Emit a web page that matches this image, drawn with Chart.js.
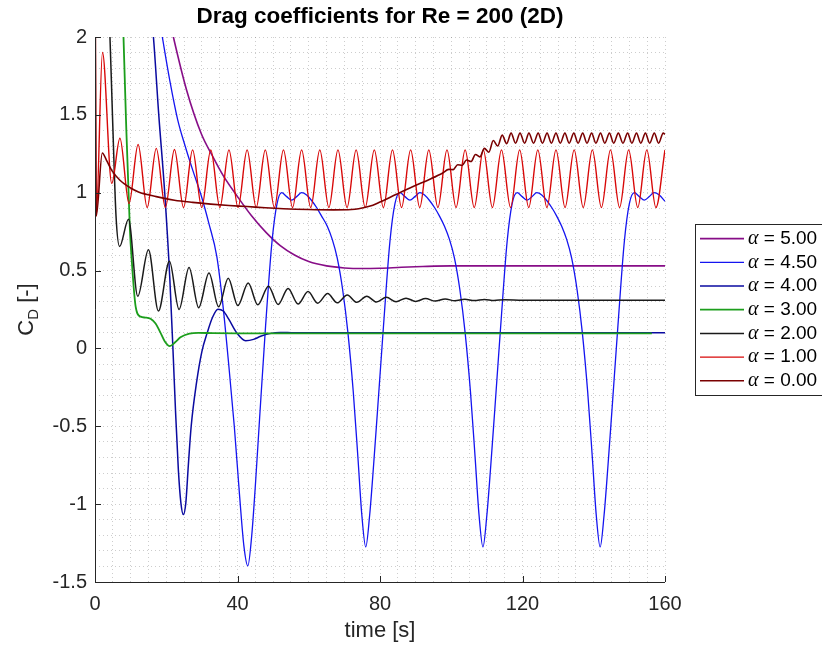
<!DOCTYPE html>
<html lang="en">
<head>
<meta charset="UTF-8">
<title>Drag coefficients for Re = 200 (2D)</title>
<script src="https://cdn.jsdelivr.net/npm/chart.js@4.4.1/dist/chart.umd.min.js"></script>
<style>
    html, body { margin: 0; padding: 0; background: #fff; }
    #dragChart { display: block; }
</style>
</head>
<body>

<canvas id="dragChart" width="822" height="651"></canvas>

<script>
// legend labels, same order as in the figure
const alphaLabels = ['5.00', '4.50', '4.00', '3.00', '2.00', '1.00', '0.00'];

// labelled ticks (minor grid every 5 s / 0.1)
const xTicks = [0, 40, 80, 120, 160];
const yTicks = [-1.5, -1, -0.5, 0, 0.5, 1, 1.5, 2];
const xMinorStep = 5;
const yMinorStep = 0.1;

// alpha = 5.00
const tA500 = [0, 12, 18, 22.0, 25.7, 29.9, 33, 36, 40, 44, 48, 52, 56, 60, 65, 70, 75, 80, 86, 92, 100, 160];
const cdA500 = [8, 3.5, 2.42, 2.0, 1.66, 1.375, 1.235, 1.11, 0.975, 0.85, 0.745, 0.66, 0.6, 0.558, 0.53, 0.517, 0.513, 0.515, 0.521, 0.526, 0.53, 0.53];

// alpha = 4.50
const tA450 = [0, 12, 16, 18.9, 21, 23.2, 25.3, 27.5, 29.7, 32, 34.2, 35.9, 37.4, 39.1, 40.6, 41.8, 42.9, 44.0, 45.1, 46.2, 47.9, 49.7, 51.1, 52.4, 53.8, 55.2, 56.6, 58.0,
    59.4, 60.8, 62.2, 63.6, 65.2, 66.6, 68.0, 69.5, 71.0, 72.5, 73.8, 74.9, 76.0, 77.1, 78.2, 79.3, 81.0, 82.8, 84.2, 85.6, 87.0, 88.4, 89.8, 91.2,
    92.5, 93.9, 95.3, 96.7, 98.1, 99.5, 100.9, 102.4, 103.9, 105.4, 106.7, 107.8, 108.9, 110.0, 111.1, 112.2, 113.9, 115.7, 117.1, 118.5, 119.9, 121.3, 122.7, 124.0,
    125.4, 126.8, 128.2, 129.6, 131.0, 132.4, 133.8, 135.3, 136.8, 138.3, 139.6, 140.7, 141.8, 142.9, 144.0, 145.1, 146.8, 148.6, 150.0, 151.4, 152.8, 154.2, 155.6, 156.9,
    158.4, 160];
const cdA450 = [8, 3.4, 2.4, 2.0, 1.72, 1.47, 1.3, 1.14, 0.99, 0.8, 0.59, 0.28, -0.07, -0.5, -0.95, -1.27, -1.397, -1.2, -0.85, -0.45, 0.15, 0.69, 0.93, 1.0, 0.975, 0.953, 0.975, 1.0,
    0.985, 0.95, 0.905, 0.85, 0.785, 0.70, 0.58, 0.38, 0.1, -0.28, -0.7, -1.07, -1.275, -1.07, -0.75, -0.4, 0.15, 0.69, 0.93, 1.0, 0.975, 0.953, 0.975, 1.0,
    0.985, 0.95, 0.905, 0.85, 0.785, 0.70, 0.58, 0.38, 0.1, -0.28, -0.7, -1.07, -1.275, -1.07, -0.75, -0.4, 0.15, 0.69, 0.93, 1.0, 0.975, 0.953, 0.975, 1.0,
    0.985, 0.95, 0.905, 0.85, 0.785, 0.70, 0.58, 0.38, 0.1, -0.28, -0.7, -1.07, -1.275, -1.07, -0.75, -0.4, 0.15, 0.69, 0.93, 1.0, 0.975, 0.953, 0.975, 1.0,
    0.985, 0.945];

// alpha = 4.00
const tA400 = [0, 10, 14, 16.4, 17.9, 19.6, 21.0, 22.0, 22.6, 23.4, 24.1, 24.8, 25.5, 26.2, 27.0, 28.5, 30.0, 31.5, 33.0, 34.5, 36.0, 37.5, 39.8, 42.3, 44.5, 46.5, 49.0, 52.0, 56.0, 160];
const cdA400 = [8, 3.6, 2.55, 2.0, 1.5, 0.99, 0.45, -0.07, -0.4, -0.78, -0.99, -1.067, -0.99, -0.75, -0.5, -0.22, -0.02, 0.1, 0.2, 0.252, 0.24, 0.19, 0.1, 0.05, 0.058, 0.078, 0.095, 0.103, 0.1, 0.1];

// alpha = 3.00
const tA300 = [0, 6, 8.0, 8.7, 9.8, 10.3, 11.4, 12.8, 14.2, 15.6, 17.0, 18.2, 19.6, 21.0, 22.5, 24.0, 26.5, 29.0, 33.0, 40.0, 156.3];
const cdA300 = [8, 3.3, 2.0, 1.47, 0.76, 0.57, 0.27, 0.204, 0.198, 0.19, 0.16, 0.11, 0.045, 0.015, 0.04, 0.072, 0.095, 0.1, 0.098, 0.097, 0.097];

// alpha = 2.00
const tA200 = [0, 3, 4.2, 4.9, 5.9, 6.9, 9.4, 12.0, 15.0, 17.8, 20.9, 23.6, 26.4, 29.1, 32.0, 34.7, 37.4, 40.1, 43.0, 45.7, 48.7, 51.4,
    54.2, 57.0, 59.8, 62.5, 65.3, 68.0, 70.8, 73.5, 76.3, 79.0, 81.8, 84.5, 87.3, 90.0, 92.8, 95.5, 98.3, 101.0, 103.8, 106.5, 109.3, 112.0, 115.0, 120.0, 160];
const cdA200 = [5, 2.6, 2.0, 1.5, 0.85, 0.655, 0.83, 0.335, 0.633, 0.24, 0.56, 0.25, 0.52, 0.262, 0.485, 0.267, 0.45, 0.275, 0.42, 0.28, 0.40, 0.282,
    0.385, 0.285, 0.365, 0.29, 0.352, 0.293, 0.343, 0.296, 0.335, 0.298, 0.328, 0.3, 0.323, 0.302, 0.32, 0.304, 0.318, 0.306, 0.316, 0.307, 0.315, 0.308, 0.313, 0.31, 0.31];

// alpha = 1.00
const tA100 = [0, 0.35, 2.1, 4.7, 7.0, 9.55, 12.1, 14.65, 17.2, 19.75, 22.3,
    24.85, 27.4, 29.95, 32.5, 35.05, 37.6, 40.15, 42.7, 45.25, 47.8, 50.35, 52.9, 55.45, 58.0,
    60.55, 63.1, 65.65, 68.2, 70.75, 73.3, 75.85, 78.4, 80.95, 83.5, 86.05, 88.6, 91.15, 93.7,
    96.25, 98.8, 101.35, 103.9, 106.45, 109.0, 111.55, 114.1, 116.65, 119.2, 121.75, 124.3,
    126.85, 129.4, 131.95, 134.5, 137.05, 139.6, 142.15, 144.7, 147.25, 149.8, 152.35, 154.9, 157.45, 160.0];
const cdA100 = [2.6, 0.85, 1.9, 1.06, 1.35, 0.93, 1.31, 0.905, 1.285, 0.905, 1.278,
    0.905, 1.275, 0.905, 1.275, 0.905, 1.275, 0.905, 1.275, 0.905, 1.275, 0.905, 1.275, 0.905, 1.275,
    0.905, 1.275, 0.905, 1.275, 0.905, 1.275, 0.905, 1.275, 0.905, 1.275, 0.905, 1.275, 0.905, 1.275,
    0.905, 1.275, 0.905, 1.275, 0.905, 1.275, 0.905, 1.275, 0.905, 1.275, 0.905, 1.275,
    0.905, 1.275, 0.905, 1.275, 0.905, 1.275, 0.905, 1.275, 0.905, 1.275, 0.905, 1.275, 0.905, 1.275];

// alpha = 0.00
const tA000 = [0, 0.35, 2.05, 3.2, 4.8, 7.0, 10.0, 12.2, 17.2, 22.3, 27.4, 32.5, 37.6, 42.7, 47.8, 52.9, 60, 67, 72, 74, 76.2, 78, 80, 84.6, 89.3, 94, 97.5,
    99.3, 100.55, 101.8, 103.05, 104.3, 105.55, 106.8, 108.05, 109.3, 110.55, 111.8, 113.05, 114.3, 115.55, 116.8,
    118.05, 119.3, 120.6, 121.8, 123.1, 124.4, 125.6, 126.9, 128.1, 129.4, 130.6, 131.9, 133.1, 134.4, 135.6, 136.9, 138.1,
    139.4, 140.6, 141.9, 143.1, 144.4, 145.6, 146.9, 148.2, 149.5, 150.7, 152.0, 153.2, 154.5, 155.7, 157.0, 158.2, 159.5, 160];
const cdA000 = [2.6, 0.85, 1.255, 1.21, 1.14, 1.08, 1.03, 1.005, 0.975, 0.952, 0.938, 0.927, 0.918, 0.911, 0.903, 0.897, 0.892, 0.89, 0.892, 0.897, 0.908, 0.92, 0.94, 0.99, 1.04, 1.087, 1.125,
    1.15, 1.148, 1.18, 1.175, 1.21, 1.2, 1.245, 1.23, 1.285, 1.26, 1.335, 1.3, 1.37, 1.315, 1.383,
    1.318, 1.383, 1.318, 1.383, 1.318, 1.383, 1.318, 1.383, 1.318, 1.383, 1.318, 1.383, 1.318, 1.383, 1.318, 1.383, 1.318,
    1.383, 1.318, 1.383, 1.318, 1.383, 1.318, 1.383, 1.318, 1.383, 1.318, 1.383, 1.318, 1.383, 1.318, 1.383, 1.318, 1.383, 1.375];

const FONT = '"Liberation Sans", Arial, Helvetica, sans-serif';

function toPoints(t, cd) {
    return t.map((x, i) => ({ x: x, y: cd[i] }));
}

const seriesData = [
    toPoints(tA500, cdA500),
    toPoints(tA450, cdA450),
    toPoints(tA400, cdA400),
    toPoints(tA300, cdA300),
    toPoints(tA200, cdA200),
    toPoints(tA100, cdA100),
    toPoints(tA000, cdA000)
];
const lineColors = ['#870d87', '#1414f0', '#0a0aa0', '#1c9e1c', '#1a1a1a', '#d80808', '#7a0000'];
const lineWidths = [1.6, 1.3, 1.5, 1.8, 1.5, 1.4, 1.6];

const datasets = seriesData.map((pts, i) => ({
    label: '\u03b1 = ' + alphaLabels[i],
    data: pts,
    borderColor: lineColors[i],
    borderWidth: lineWidths[i],
    // later entries sit on top, like the original plot order
    order: seriesData.length - i
}));

function isTick(list, v) {
    return list.some(t => Math.abs(t - v) < 1e-9);
}

// y label with a real subscript
const yTitlePlugin = {
    id: 'yTitle',
    afterDraw(chart) {
        const ctx = chart.ctx;
        const area = chart.chartArea;
        const big = '22px ' + FONT;
        const small = '15px ' + FONT;
        ctx.save();
        ctx.translate(33, (area.top + area.bottom) / 2);
        ctx.rotate(-Math.PI / 2);
        ctx.fillStyle = '#262626';
        ctx.textBaseline = 'alphabetic';
        ctx.font = big;
        const wC = ctx.measureText('C').width;
        const wR = ctx.measureText(' [-]').width;
        ctx.font = small;
        const wD = ctx.measureText('D').width;
        let x = -(wC + wD + wR) / 2;
        ctx.font = big;
        ctx.fillText('C', x, 0);
        x += wC;
        ctx.font = small;
        ctx.fillText('D', x, 5);
        x += wD;
        ctx.font = big;
        ctx.fillText(' [-]', x, 0);
        ctx.restore();
    }
};

// axis lines and inward tick marks drawn over the curves
const axesPlugin = {
    id: 'axesOnTop',
    afterDatasetsDraw(chart) {
        const ctx = chart.ctx;
        const a = chart.chartArea;
        const xs = chart.scales.x;
        const ys = chart.scales.y;
        ctx.save();
        ctx.strokeStyle = '#262626';
        ctx.lineWidth = 1;
        ctx.beginPath();
        ctx.moveTo(a.left + 0.5, a.top);
        ctx.lineTo(a.left + 0.5, a.bottom + 0.5);
        ctx.lineTo(a.right, a.bottom + 0.5);
        xTicks.forEach(v => {
            const px = Math.round(xs.getPixelForValue(v)) + 0.5;
            ctx.moveTo(px, a.bottom);
            ctx.lineTo(px, a.bottom - 6);
        });
        yTicks.forEach(v => {
            const py = Math.round(ys.getPixelForValue(v)) + 0.5;
            ctx.moveTo(a.left, py);
            ctx.lineTo(a.left + 6, py);
        });
        ctx.stroke();
        ctx.restore();
    }
};

// boxed legend at the right, partly cut by the canvas edge
const legendPlugin = {
    id: 'sideLegend',
    afterDraw(chart) {
        const ctx = chart.ctx;
        const boxLeft = 695.5, boxTop = 224.5, boxBottom = 395.5;
        const firstRow = 238.6, rowStep = 23.7;
        ctx.save();
        ctx.fillStyle = '#fff';
        ctx.fillRect(boxLeft, boxTop, 140, boxBottom - boxTop);
        ctx.strokeStyle = '#262626';
        ctx.lineWidth = 1;
        ctx.strokeRect(boxLeft, boxTop, 140, boxBottom - boxTop);
        chart.data.datasets.forEach((ds, i) => {
            const yy = firstRow + i * rowStep;
            ctx.strokeStyle = ds.borderColor;
            ctx.lineWidth = ds.borderWidth;
            ctx.beginPath();
            ctx.moveTo(700, yy);
            ctx.lineTo(744, yy);
            ctx.stroke();
            ctx.fillStyle = '#000';
            ctx.textBaseline = 'middle';
            ctx.font = 'italic 20px "Liberation Serif", "DejaVu Serif", serif';
            ctx.fillText('\u03b1', 748, yy);
            const wa = ctx.measureText('\u03b1').width;
            ctx.font = '19px ' + FONT;
            ctx.fillText(' = ' + alphaLabels[i], 748 + wa, yy);
        });
        ctx.restore();
    }
};

const ctx = document.getElementById('dragChart').getContext('2d');
new Chart(ctx, {
    type: 'line',
    data: { datasets: datasets },
    options: {
        responsive: false,
        animation: false,
        devicePixelRatio: 1,
        events: [],
        layout: { padding: { left: 0, right: 157, top: 0, bottom: 0 } },
        elements: {
            point: { radius: 0 },
            line: { cubicInterpolationMode: 'monotone', capBezierPoints: false, fill: false }
        },
        scales: {
            x: {
                type: 'linear',
                min: 0,
                max: 160,
                afterFit(scale) { scale.height = 69; },
                ticks: {
                    stepSize: xMinorStep,
                    autoSkip: false,
                    maxRotation: 0,
                    padding: 10,
                    color: '#262626',
                    font: { family: FONT, size: 20 },
                    callback: v => isTick(xTicks, v) ? String(v) : ''
                },
                grid: { color: 'rgba(60,60,60,0.26)', lineWidth: 1, drawTicks: false },
                border: { display: false, dash: [1, 3] },
                title: {
                    display: true,
                    text: 'time [s]',
                    color: '#262626',
                    font: { family: FONT, size: 22 },
                    padding: { top: 0, bottom: 7 }
                }
            },
            y: {
                type: 'linear',
                min: -1.5,
                max: 2,
                afterFit(scale) { scale.width = 95; },
                ticks: {
                    stepSize: yMinorStep,
                    autoSkip: false,
                    padding: 8,
                    color: '#262626',
                    font: { family: FONT, size: 20 },
                    callback: v => isTick(yTicks, v) ? String(Math.round(v * 10) / 10) : ''
                },
                grid: { color: 'rgba(60,60,60,0.26)', lineWidth: 1, drawTicks: false },
                border: { display: false, dash: [1, 3] }
            }
        },
        plugins: {
            legend: { display: false },
            tooltip: { enabled: false },
            title: {
                display: true,
                fullSize: false,
                text: 'Drag coefficients for Re = 200 (2D)',
                color: '#000',
                font: { family: FONT, size: 22.5, weight: 'bold' },
                padding: { top: 3, bottom: 7 }
            }
        }
    },
    plugins: [axesPlugin, yTitlePlugin, legendPlugin]
});
</script>

</body>
</html>
